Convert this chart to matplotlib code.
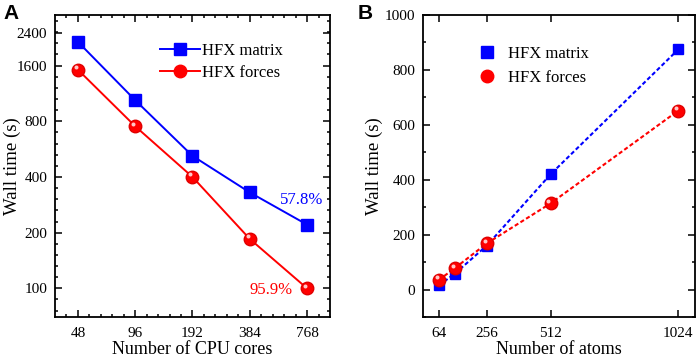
import numpy as np
import matplotlib.pyplot as plt
from matplotlib.transforms import offset_copy
from matplotlib.ticker import FixedLocator, NullFormatter

plt.rcParams['font.family'] = ['Liberation Serif', 'DejaVu Serif']

# panel A: strong scaling
cores = [48, 96, 192, 384, 768]
t_matrix_a = [2150, 1040, 520, 330, 221]
t_forces_a = [1520, 752, 400, 185, 100]
eff_matrix = "57.8%"
eff_forces = "95.9%"

# panel B: system size
atoms = [64, 128, 256, 512, 1024]
t_matrix_b = [15, 58, 160, 420, 875]
t_forces_b = [35, 78, 168, 314, 652]

blue = '#0000ff'
red = '#ff0000'

fig = plt.figure(figsize=(6.99, 3.58), dpi=100)
axA = fig.add_axes([0.0787, 0.1145, 0.3933, 0.8435])
axB = fig.add_axes([0.605, 0.1145, 0.389, 0.8435])


def sphere(ax, x, y, ms, **kw):
    ax.plot(x, y, 'o', color=red, ms=ms, mec='#e00000', zorder=5, **kw)
    tr = offset_copy(ax.transData, fig=fig, x=-ms * 0.18, y=ms * 0.2, units='points')
    ax.plot(x, y, 'o', color='#ffc8c8', ms=ms * 0.32, mec='none', transform=tr, zorder=6)


def style(ax):
    for s in ax.spines.values():
        s.set_linewidth(1.3)
    ax.tick_params(which='both', direction='in', top=True, right=True, labelsize=11, width=1.1)
    ax.tick_params(which='major', length=5)
    ax.tick_params(which='minor', length=2.5)
    ax.tick_params(axis='x', which='major', pad=7)
    ax.tick_params(axis='y', which='major', pad=5.5)


# ---- A ----
axA.set_xscale('log', base=2)
axA.set_yscale('log', base=2)
axA.plot(cores, t_matrix_a, '-', color=blue, lw=1.4, marker='s', ms=8, zorder=4)
axA.plot(cores, t_forces_a, '-', color=red, lw=1.4, zorder=4)
sphere(axA, cores, t_forces_a, 9)
axA.set_xlim(36.4, 1013)
axA.set_ylim(70, 3000)
axA.xaxis.set_major_locator(FixedLocator(cores))
axA.set_xticklabels([str(c) for c in cores])
axA.xaxis.set_minor_locator(FixedLocator([48 * 2 ** (k / 5) for k in range(-2, 24)]))
axA.xaxis.set_minor_formatter(NullFormatter())
yt = [100, 200, 400, 800, 1600, 2400]
axA.yaxis.set_major_locator(FixedLocator(yt))
axA.set_yticklabels([str(v) for v in yt])
axA.yaxis.set_minor_locator(FixedLocator([100 * 2 ** (k / 5) for k in range(-3, 25)]))
axA.yaxis.set_minor_formatter(NullFormatter())
style(axA)
axA.set_xlabel('Number of CPU cores', fontsize=13)
axA.set_ylabel('Wall time (s)', fontsize=13.5)
axA.xaxis.set_label_coords(0.5, -0.078)
axA.yaxis.set_label_coords(-0.125, 0.5)
axA.text(722, 302, eff_matrix, color=blue, fontsize=12, ha='center', va='center')
axA.text(497, 98, eff_forces, color=red, fontsize=12, ha='center', va='center')

hm, = axA.plot([], [], '-', color=blue, lw=1.4, marker='s', ms=8)
hf, = axA.plot([], [], '-', color=red, lw=1.4, marker='o', ms=9)
axA.legend([hm, hf], ['HFX matrix', 'HFX forces'], loc='upper left',
           bbox_to_anchor=(0.35, 0.935), frameon=False, fontsize=12,
           handlelength=2.4, handletextpad=0.15, labelspacing=0.35, borderpad=0)

# ---- B ----
axB.plot(atoms, t_matrix_b, linestyle=(0, (2, 1.2)), color=blue, lw=1.5, zorder=3)
axB.plot(atoms, t_forces_b, linestyle=(0, (2, 1.2)), color=red, lw=1.5, zorder=3)
axB.plot(atoms, t_matrix_b, 's', color=blue, ms=7.5, zorder=4)
sphere(axB, atoms, t_forces_b, 9)
axB.set_xlim(0, 1090)
axB.set_ylim(-100, 1000)
axB.set_xticks([64, 256, 512, 1024])
axB.set_yticks([0, 200, 400, 600, 800, 1000])
axB.yaxis.set_minor_locator(FixedLocator(np.arange(-100, 1001, 100)))
style(axB)
axB.set_xlabel('Number of atoms', fontsize=13)
axB.set_ylabel('Wall time (s)', fontsize=13.5)
axB.xaxis.set_label_coords(0.5, -0.078)
axB.yaxis.set_label_coords(-0.145, 0.5)

hbm, = axB.plot([], [], 's', color=blue, ms=8)
hbf, = axB.plot([], [], 'o', color=red, ms=9)
axB.legend([hbm, hbf], ['HFX matrix', 'HFX forces'], loc='upper left',
           bbox_to_anchor=(0.175, 0.925), frameon=False, fontsize=12,
           handlelength=1.0, handletextpad=0.75, labelspacing=0.45, borderpad=0)

fig.text(0.005, 0.99, 'A', fontsize=15, fontweight='bold', family='Liberation Sans', va='top')
fig.text(0.512, 0.99, 'B', fontsize=15, fontweight='bold', family='Liberation Sans', va='top')

fig.savefig('out.png', dpi=100)
